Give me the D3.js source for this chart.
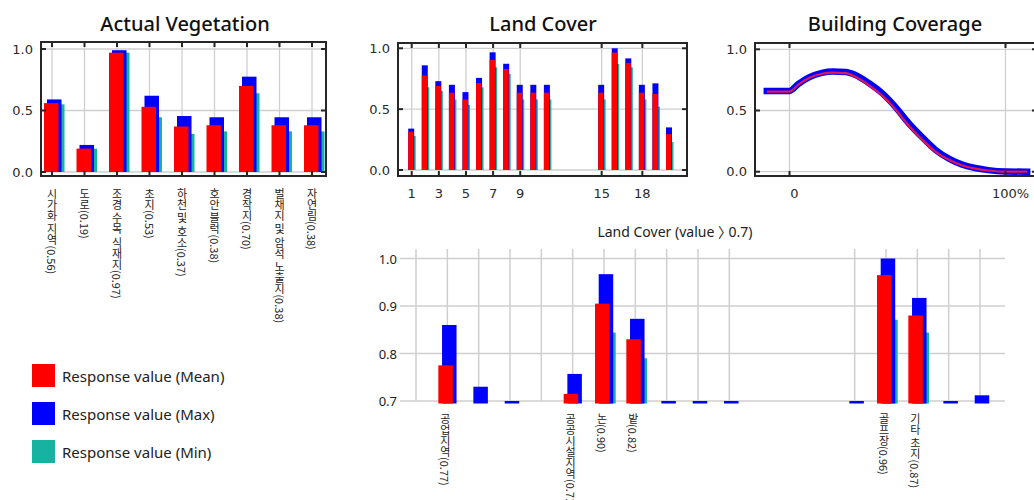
<!DOCTYPE html>
<html>
<head>
<meta charset="utf-8">
<script src="https://cdn.jsdelivr.net/npm/d3@7"></script>
<style>
  body { margin: 0; background: #fff; }
  svg text { font-family: "DejaVu Sans", sans-serif; }
  .title { font-family: "Noto Sans", sans-serif; font-weight: 500; font-size: 20px; fill: #111; }
  .ytick, .xtick { font-size: 13px; fill: #2a2a2a; }
  .kr { font-family: "Noto Sans CJK KR", sans-serif; font-size: 11px; fill: #222; writing-mode: vertical-rl; }
  .legend, .subtitle, .ytick2 { font-family: "Noto Sans", "Noto Sans CJK KR", sans-serif; fill: #222; }
  .subtitle { font-feature-settings: "halt" 1; }
</style>
</head>
<body>
<svg id="chart" width="1034" height="500"></svg>
<script>
// ---- data ----
// Actual Vegetation
const avLabels = ['시가화 지역(0.56)', '도로(0.19)', '조경 수목 식재지(0.97)', '초지(0.53)', '하천 및 호소(0.37)',
  '호안 블럭(0.38)', '경작지(0.70)', '벌채지 및 암석 노출지(0.38)', '자연림(0.38)'];
const avMean = [0.56, 0.19, 0.97, 0.53, 0.37, 0.38, 0.70, 0.38, 0.38];
const avMax = [0.59, 0.22, 0.99, 0.62, 0.455, 0.445, 0.775, 0.445, 0.445];
const avMin = [0.55, 0.19, 0.97, 0.445, 0.31, 0.33, 0.64, 0.33, 0.33];

// Land Cover (category codes 12-14 have no data)
const lcIndex = [1, 2, 3, 4, 5, 6, 7, 8, 9, 10, 11, 15, 16, 17, 18, 19, 20];
const lcMean = [0.315, 0.775, 0.69, 0.635, 0.58, 0.715, 0.905, 0.83, 0.635, 0.635, 0.635, 0.635, 0.965, 0.88, 0.635, 0.625, 0.295];
const lcMax = [0.34, 0.86, 0.73, 0.70, 0.64, 0.757, 0.967, 0.873, 0.70, 0.70, 0.70, 0.70, 1.0, 0.917, 0.70, 0.712, 0.35];
const lcMin = [0.28, 0.68, 0.65, 0.58, 0.535, 0.68, 0.844, 0.79, 0.58, 0.58, 0.58, 0.58, 0.871, 0.844, 0.58, 0.52, 0.23];
const lcTicks = [1, 3, 5, 7, 9, 15, 18];
const lcHighIndex = [2, 6, 7, 8, 16, 17];
const lcHighLabels = ['공업지역(0.77)', '공공시설지역(0.71)', '논(0.90)', '밭(0.82)', '골프장(0.96)', '기타 초지(0.87)'];

// Building Coverage (%)
const bcPct = [-10.5, 0, 4, 9, 15, 20, 26, 30.5, 36.5, 43, 49, 55, 61.5, 67.5, 74, 80, 86, 92, 100, 110];
const bcMean = [0.655, 0.655, 0.71, 0.765, 0.80, 0.81, 0.805, 0.775, 0.71, 0.62, 0.51, 0.38, 0.26, 0.165, 0.095, 0.05, 0.025, 0.01, 0, 0];
const bcMax = [0.66, 0.66, 0.715, 0.77, 0.807, 0.818, 0.815, 0.79, 0.727, 0.64, 0.53, 0.40, 0.28, 0.18, 0.105, 0.058, 0.03, 0.013, 0.002, 0];

const legendLabels = ['Response value (Mean)', 'Response value (Max)', 'Response value (Min)'];

const RED = '#ff0000', BLUE = '#0000ff', TEAL = '#17b3a0';
const GRID = '#cfcfcf', FRAME = '#262626';

const svg = d3.select('#chart');

// grid lines of a framed panel (drawn under the bars)
function framePanel(box, xVals, x, yVals, y) {
  const g = svg.append('g');
  g.selectAll('.vg').data(xVals).join('line')
    .attr('x1', d => x(d)).attr('x2', d => x(d))
    .attr('y1', box.t).attr('y2', box.b)
    .attr('stroke', GRID).attr('stroke-width', 1.3);
  g.selectAll('.hg').data(yVals).join('line')
    .attr('x1', box.l).attr('x2', box.r)
    .attr('y1', d => y(d)).attr('y2', d => y(d))
    .attr('stroke', GRID).attr('stroke-width', 1.3);
  return g;
}

// frame, inward ticks and y labels (drawn over the bars)
function frameTop(g, box, xVals, x, yVals, y) {
  g.append('rect')
    .attr('x', box.l).attr('y', box.t)
    .attr('width', box.r - box.l).attr('height', box.b - box.t)
    .attr('fill', 'none').attr('stroke', FRAME).attr('stroke-width', 2);
  const tk = 5;
  xVals.forEach(d => {
    g.append('line').attr('x1', x(d)).attr('x2', x(d)).attr('y1', box.t).attr('y2', box.t + tk)
      .attr('stroke', FRAME).attr('stroke-width', 2);
    g.append('line').attr('x1', x(d)).attr('x2', x(d)).attr('y1', box.b).attr('y2', box.b - tk)
      .attr('stroke', FRAME).attr('stroke-width', 2);
  });
  yVals.forEach(d => {
    g.append('line').attr('x1', box.l).attr('x2', box.l + tk).attr('y1', y(d)).attr('y2', y(d))
      .attr('stroke', FRAME).attr('stroke-width', 2);
    g.append('line').attr('x1', box.r).attr('x2', box.r - tk).attr('y1', y(d)).attr('y2', y(d))
      .attr('stroke', FRAME).attr('stroke-width', 2);
  });
  g.selectAll('.yl').data(yVals).join('text')
    .attr('class', 'ytick')
    .attr('x', box.l - 8).attr('y', d => y(d))
    .attr('text-anchor', 'end').attr('dominant-baseline', 'central')
    .text(d3.format('.1f'));
}

function title(x, y, t) {
  svg.append('text').attr('class', 'title')
    .attr('x', x).attr('y', y).attr('text-anchor', 'middle').text(t);
}

// ---- Actual Vegetation ----
{
  const box = { l: 41, r: 326, t: 42, b: 176 };
  const idx = d3.range(avMean.length);
  const x = d3.scalePoint().domain(idx).range([52, 312]);
  const y = d3.scaleLinear().domain([0, 1]).range([172, 49]);
  const g = framePanel(box, idx, x, [0, 0.5, 1], y);
  const w = 14.5;
  [[avMin, TEAL, -2], [avMax, BLUE, -5], [avMean, RED, -8]].forEach(([vals, c, off]) => {
    g.selectAll(null).data(idx).join('rect')
      .attr('x', i => x(i) + off).attr('width', w)
      .attr('y', i => y(vals[i])).attr('height', i => y(0) - y(vals[i]))
      .attr('fill', c);
  });
  frameTop(g, box, idx, x, [0, 0.5, 1], y);
  g.selectAll('.kl').data(idx).join('text')
    .attr('class', 'kr')
    .attr('x', i => x(i)).attr('y', 188)
    .text(i => avLabels[i]);
  title(185, 31, 'Actual Vegetation');
}

// ---- Land Cover ----
{
  const box = { l: 398, r: 687, t: 43, b: 176 };
  const x = d3.scaleLinear().domain([1, 20]).range([411.7, 669.5]);
  const y = d3.scaleLinear().domain([0, 1]).range([170, 48.3]);
  const g = framePanel(box, lcTicks, x, [0, 0.5, 1], y);
  const idx = d3.range(lcIndex.length);
  [[lcMin, TEAL, -1.5, 5.5], [lcMax, BLUE, -3.5, 6], [lcMean, RED, -3.5, 5.5]].forEach(([vals, c, off, w]) => {
    g.selectAll(null).data(idx).join('rect')
      .attr('x', i => x(lcIndex[i]) + off).attr('width', w)
      .attr('y', i => y(vals[i])).attr('height', i => y(0) - y(vals[i]))
      .attr('fill', c);
  });
  frameTop(g, box, lcTicks, x, [0, 0.5, 1], y);
  g.selectAll('.xl').data(lcTicks).join('text')
    .attr('class', 'xtick')
    .attr('x', d => x(d)).attr('y', 198)
    .attr('text-anchor', 'middle')
    .text(d => d);
  title(543, 31, 'Land Cover');
}

// ---- Building Coverage ----
{
  const box = { l: 755, r: 1037, t: 43, b: 176 };
  const x = d3.scaleLinear().domain([0, 100]).range([789.5, 1005.5]);
  const y = d3.scaleLinear().domain([0, 1]).range([171.7, 49.3]);
  const g = framePanel(box, [0, 100], x, [0, 0.5, 1], y);
  const line = vals => d3.line()
    .x((d, i) => x(bcPct[i])).y(d => y(d))
    .curve(d3.curveMonotoneX)(vals);
  g.append('path').attr('d', line(bcMax))
    .attr('fill', 'none').attr('stroke', BLUE).attr('stroke-width', 6.5).attr('stroke-linecap', 'square');
  g.append('path').attr('d', line(bcMean))
    .attr('fill', 'none').attr('stroke', '#e3164f').attr('stroke-width', 2.2);
  frameTop(g, box, [0, 100], x, [0, 0.5, 1], y);
  g.selectAll('.xl').data([0, 100]).join('text')
    .attr('class', 'xtick')
    .attr('x', d => x(d) + 5).attr('y', 198)
    .attr('text-anchor', 'middle')
    .text(d => d === 0 ? '0' : d + '%');
  title(895, 31, 'Building Coverage');
}

// ---- Land Cover (value > 0.7) ----
{
  const left = 400, right = 1005;
  const x = d3.scaleLinear().domain([1, 19]).range([416, 980]);
  const y = d3.scaleLinear().domain([0.7, 1]).range([401, 258.5]);
  const base = y(0.7) + 2.5;
  const g = svg.append('g');
  const yTicks = [0.7, 0.8, 0.9, 1.0];
  const gridIdx = lcIndex.filter(d => x(d) <= right);
  g.selectAll('.vg').data(gridIdx).join('line')
    .attr('x1', d => x(d)).attr('x2', d => x(d))
    .attr('y1', 249).attr('y2', y(0.7))
    .attr('stroke', GRID).attr('stroke-width', 1.5);
  g.selectAll('.hg').data(yTicks).join('line')
    .attr('x1', left).attr('x2', right)
    .attr('y1', d => y(d)).attr('y2', d => y(d))
    .attr('stroke', GRID).attr('stroke-width', 1.5);
  g.selectAll('.yl').data(yTicks).join('text')
    .attr('class', 'ytick2')
    .attr('font-size', 13)
    .attr('x', 397).attr('y', d => y(d))
    .attr('text-anchor', 'end').attr('dominant-baseline', 'central')
    .text(d3.format('.1f'));
  const idx = d3.range(lcIndex.length).filter(i => x(lcIndex[i]) <= right);
  const w = 14.5;
  [[lcMin, TEAL, -2.8], [lcMax, BLUE, -5.3], [lcMean, RED, -9]].forEach(([vals, c, off]) => {
    g.selectAll(null).data(idx.filter(i => vals[i] >= 0.7)).join('rect')
      .attr('x', i => x(lcIndex[i]) + off).attr('width', w)
      .attr('y', i => y(vals[i])).attr('height', i => base - y(vals[i]))
      .attr('fill', c);
  });
  g.selectAll('.kl').data(lcHighIndex).join('text')
    .attr('class', 'kr')
    .attr('x', d => x(d) - 2).attr('y', 413)
    .text((d, i) => lcHighLabels[i]);
  svg.append('text').attr('class', 'subtitle')
    .attr('x', 675).attr('y', 237).attr('font-size', 14)
    .attr('text-anchor', 'middle')
    .text('Land Cover (value 〉 0.7)');
}

// ---- legend ----
{
  const colors = [RED, BLUE, TEAL];
  const ly = d3.scalePoint().domain(d3.range(3)).range([364, 440]);
  const g = svg.append('g');
  g.selectAll('rect').data(d3.range(3)).join('rect')
    .attr('x', 32).attr('y', i => ly(i)).attr('width', 23).attr('height', 23)
    .attr('fill', i => colors[i]);
  g.selectAll('text').data(d3.range(3)).join('text')
    .attr('class', 'legend').attr('font-size', 15)
    .attr('x', 62).attr('y', i => ly(i) + 12)
    .attr('dominant-baseline', 'central')
    .text(i => legendLabels[i]);
}
</script>
</body>
</html>
